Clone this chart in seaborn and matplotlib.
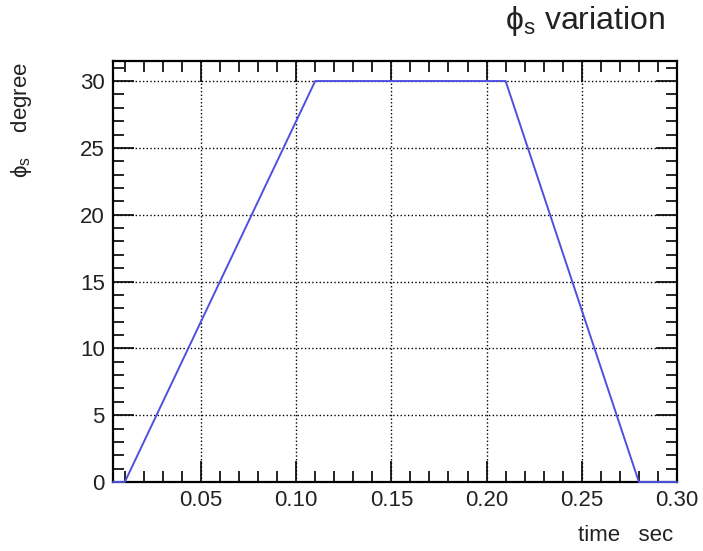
import numpy as np
import pandas as pd
import seaborn as sns
import matplotlib.pyplot as plt
from matplotlib.ticker import MultipleLocator

# breakpoints of phi_s over time
tempo = [0.0038, 0.010, 0.110, 0.210, 0.280, 0.300]
phi_s = [0.0, 0.0, 30.0, 30.0, 0.0, 0.0]

dados = pd.DataFrame({'tempo': tempo, 'phi_s': phi_s})

sns.set_style("ticks")
plt.rcParams['font.family'] = ['Liberation Sans', 'DejaVu Sans']
plt.rcParams['mathtext.fontset'] = 'custom'
plt.rcParams['mathtext.rm'] = 'Liberation Sans'
plt.rcParams['mathtext.it'] = 'Liberation Sans:italic'
plt.rcParams['text.color'] = 'black'

fig = plt.figure(figsize=(7.03, 5.51), dpi=100)
ax = fig.add_axes([0.1607, 0.1252, 0.963 - 0.1607, 0.8893 - 0.1252])

sns.lineplot(data=dados, x='tempo', y='phi_s', ax=ax, color='#4f4fe0',
             linewidth=1.4, sort=False, clip_on=False, zorder=5)

ax.set_xlim(0.0038, 0.30)
ax.set_ylim(0, 31.5)
ax.xaxis.set_major_locator(MultipleLocator(0.05))
ax.xaxis.set_minor_locator(MultipleLocator(0.01))
ax.yaxis.set_major_locator(MultipleLocator(5))
ax.yaxis.set_minor_locator(MultipleLocator(1))
ax.set_xticks([0.05, 0.10, 0.15, 0.20, 0.25, 0.30])
ax.set_xticklabels(['0.05', '0.10', '0.15', '0.20', '0.25', '0.30'])

ax.tick_params(which='both', direction='in', top=True, right=True,
               colors='black', labelcolor='#222222')
ax.tick_params(which='major', length=15, width=1.2, labelsize=16, pad=6)
ax.tick_params(which='minor', length=8, width=1.2)
for s in ax.spines.values():
    s.set_linewidth(1.6)
    s.set_color('black')

ax.grid(which='major', color='black', linestyle=':', linewidth=1)
ax.set_xlabel('')
ax.set_ylabel('')

fig.text(0.946, 0.962, 'ϕ$_\\mathrm{s}$ variation', ha='right', va='center',
         fontsize=23, color='#222222')
fig.text(0.957, 0.029, 'time   sec', ha='right', va='center', fontsize=16,
         color='#222222')
fig.text(0.031, 0.888, 'ϕ$_\\mathrm{s}$    degree', ha='center', va='top',
         rotation=90, fontsize=16, color='#222222')

fig.savefig('out.png', dpi=100)
